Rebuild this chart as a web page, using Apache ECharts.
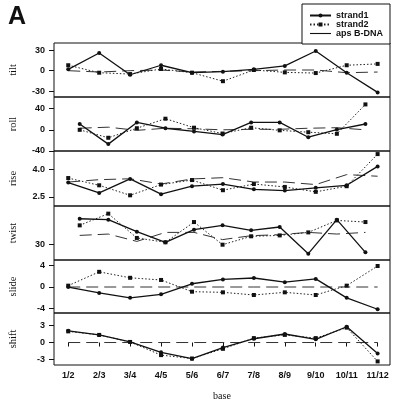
<!DOCTYPE html>
<html>
<head>
<meta charset="utf-8">
<script src="https://cdn.jsdelivr.net/npm/echarts@6/dist/echarts.min.js"></script>
<style>html,body{margin:0;padding:0;background:#fff}#c{width:400px;height:402px}</style>
</head>
<body>
<div id="c"></div>
<script>
var categories = ['1/2','2/3','3/4','4/5','5/6','6/7','7/8','8/9','9/10','10/11','11/12'];
var panelNames = ['tilt','roll','rise','twist','slide','shift'];

var tiltStrand1 = [2, 26, -6, 8, -3, -1.5, 2, 7, 29, -3, -32];
var tiltStrand2 = [8, -3, -5, 2.5, -3, -15.5, 1, -2.5, -3.5, 8, 10];
var tiltBDNA    = [0, -2, 0, 1, -2, -1, 0, 1, 1, -3, -2];

var rollStrand1 = [11, -27, 14, 3, -3, -9, 14, 14, -14, 0.5, 11];
var rollStrand2 = [0, -15, 3, 21, 4, -7, 4, -1, -4.5, -7.5, 48];
var rollBDNA    = [3, 5, -1, 3, 2, 0, 1, 1, 3, 4, 0];

var riseStrand1 = [3.29, 2.72, 3.49, 2.65, 3.09, 3.21, 2.92, 2.85, 3.0, 3.14, 4.18];
var riseStrand2 = [3.54, 3.14, 2.59, 3.18, 3.43, 2.87, 3.21, 3.05, 2.78, 3.09, 4.86];
var riseBDNA    = [3.32, 3.45, 3.5, 3.21, 3.49, 3.56, 3.32, 3.32, 3.18, 3.73, 3.64];

var twistStrand1 = [47.3, 46.7, 38.7, 31.6, 40, 42.9, 39.6, 41.8, 24, 46.7, 24.9];
var twistStrand2 = [42.9, 50.7, 34.5, 31.6, 45.1, 30, 35.6, 36.2, 38.2, 46.2, 45.1];
var twistBDNA    = [36.2, 37.1, 32.2, 38.2, 38.2, 33.4, 36, 36.7, 38.2, 37.1, 38.2];

var slideStrand1 = [0, -1.1, -2.0, -1.35, 0.6, 1.4, 1.66, 0.9, 1.5, -2.0, -4.1];
var slideStrand2 = [0.25, 2.8, 1.7, 1.3, -0.86, -0.98, -1.47, -0.98, -1.47, 0.25, 3.87];
var slideBDNA    = [0, 0, 0, 0, 0, 0, 0, 0, 0, 0, 0];

var shiftStrand1 = [2.04, 1.33, 0.11, -1.71, -2.82, -0.88, 0.66, 1.49, 0.55, 2.76, -1.93];
var shiftStrand2 = [1.95, 1.33, 0.1, -2.2, -2.8, -1.1, 0.77, 1.33, 0.77, 2.6, -3.3];
var shiftBDNA    = [0, 0, 0, 0, 0, 0, 0, 0, 0, 0, 0];

var tiltTicks = [-30, 0, 30];
var rollTicks = [-40, 0, 40];
var riseTicks = [2.5, 4.0];
var twistTicks = [30];
var slideTicks = [-4, 0, 4];
var shiftTicks = [-3, 0, 3];

var seriesNames = ['strand1', 'strand2', 'aps B-DNA'];

var panels = [
  {name: 'tilt',  s1: tiltStrand1,  s2: tiltStrand2,  b: tiltBDNA,  ticks: tiltTicks,  ymin: -38.8, ymax: 40.8, top: 43,  h: 54, xmin: 0.54, xmax: 11.4, dec: 0},
  {name: 'roll',  s1: rollStrand1,  s2: rollStrand2,  b: rollBDNA,  ticks: rollTicks,  ymin: -40, ymax: 62, top: 97,  h: 54, xmin: 0.1, xmax: 11.86, dec: 0},
  {name: 'rise',  s1: riseStrand1,  s2: riseStrand2,  b: riseBDNA,  ticks: riseTicks,  ymin: 2.0, ymax: 5.03, top: 151, h: 55, xmin: 0.54, xmax: 11.4, dec: 1},
  {name: 'twist', s1: twistStrand1, s2: twistStrand2, b: twistBDNA, ticks: twistTicks, ymin: 19.8, ymax: 55.8, top: 206, h: 54, xmin: 0.1, xmax: 11.86, dec: 0},
  {name: 'slide', s1: slideStrand1, s2: slideStrand2, b: slideBDNA, ticks: slideTicks, ymin: -4.79, ymax: 4.98, top: 260, h: 53, xmin: 0.54, xmax: 11.4, dec: 0},
  {name: 'shift', s1: shiftStrand1, s2: shiftStrand2, b: shiftBDNA, ticks: shiftTicks, ymin: -3.93, ymax: 5.16, top: 313, h: 55, xmin: 0.54, xmax: 11.4, dec: 0}
];

var xIdx = categories.map(function(_, i){ return i + 1; });
function pairs(arr){ return arr.map(function(v, i){ return [xIdx[i], v]; }); }

var grids = [], xAxes = [], yAxes = [], series = [];
var tickFont = {fontFamily: 'Liberation Sans', fontWeight: 'bold', fontSize: 9, color: '#111'};

panels.forEach(function(p, k){
  var last = k === panels.length - 1;
  grids.push({left: 47, right: 10, top: p.top, height: p.h, show: true, borderColor: '#111', borderWidth: 1, backgroundColor: 'transparent'});
  xAxes.push({
    type: 'value', gridIndex: k, min: p.xmin, max: p.xmax,
    axisLine: {show: false}, splitLine: {show: false},
    axisTick: {show: last, customValues: xIdx, length: 4, lineStyle: {color: '#111'}},
    axisLabel: Object.assign({show: last, customValues: xIdx, margin: 6, formatter: function(v){ return categories[Math.round(v) - 1] || ''; }}, tickFont),
    name: last ? 'base' : '', nameLocation: 'middle', nameGap: 26,
    nameTextStyle: {fontFamily: 'Liberation Serif', fontSize: 10, color: '#111'}
  });
  yAxes.push({
    type: 'value', gridIndex: k, min: p.ymin, max: p.ymax,
    axisLine: {show: false}, splitLine: {show: false},
    axisTick: {show: true, customValues: p.ticks, length: 5, lineStyle: {color: '#111'}},
    axisLabel: Object.assign({customValues: p.ticks, margin: 9, formatter: (function(d){ return function(v){ return d ? v.toFixed(d) : String(v); }; })(p.dec)}, tickFont),
    name: p.name, nameLocation: 'middle', nameGap: 35, nameRotate: 90,
    nameTextStyle: {fontFamily: 'Liberation Serif', fontSize: 10.5, color: '#111'}
  });
  series.push({
    name: seriesNames[2], type: 'line', xAxisIndex: k, yAxisIndex: k, data: pairs(p.b),
    symbol: 'none', lineStyle: {color: '#333', width: 1, type: [12, 6]}, itemStyle: {color: '#333'}, z: 1
  });
  series.push({
    name: seriesNames[1], type: 'line', xAxisIndex: k, yAxisIndex: k, data: pairs(p.s2),
    symbol: 'rect', symbolSize: 4, lineStyle: {color: '#222', width: 1, type: [1.5, 2]}, itemStyle: {color: '#111'}, z: 2
  });
  series.push({
    name: seriesNames[0], type: 'line', xAxisIndex: k, yAxisIndex: k, data: pairs(p.s1),
    symbol: 'circle', symbolSize: 4, lineStyle: {color: '#111', width: 1.3}, itemStyle: {color: '#111'}, z: 3
  });
});

var chart = echarts.init(document.getElementById('c'), null, {renderer: 'canvas'});
chart.setOption({
  animation: false,
  backgroundColor: '#fff',
  title: {text: 'A', left: 3, top: 0, textStyle: {fontFamily: 'Liberation Sans', fontWeight: 'bold', fontSize: 25, color: '#111'}},
  legend: {
    data: [
      {name: seriesNames[0]},
      {name: seriesNames[1]},
      {name: seriesNames[2], icon: 'path://M0,0 L21,0 L21,1.1 L0,1.1 Z', itemStyle: {color: '#111'}}
    ],
    orient: 'vertical', left: 302, top: 4,
    padding: [7, 7, 6, 7], itemGap: 0, itemWidth: 21, itemHeight: 5,
    borderColor: '#111', borderWidth: 1, backgroundColor: '#fff',
    textStyle: {fontFamily: 'Liberation Sans', fontWeight: 'bold', fontSize: 9, lineHeight: 9, color: '#111'}
  },
  grid: grids, xAxis: xAxes, yAxis: yAxes, series: series
});
</script>
</body>
</html>
